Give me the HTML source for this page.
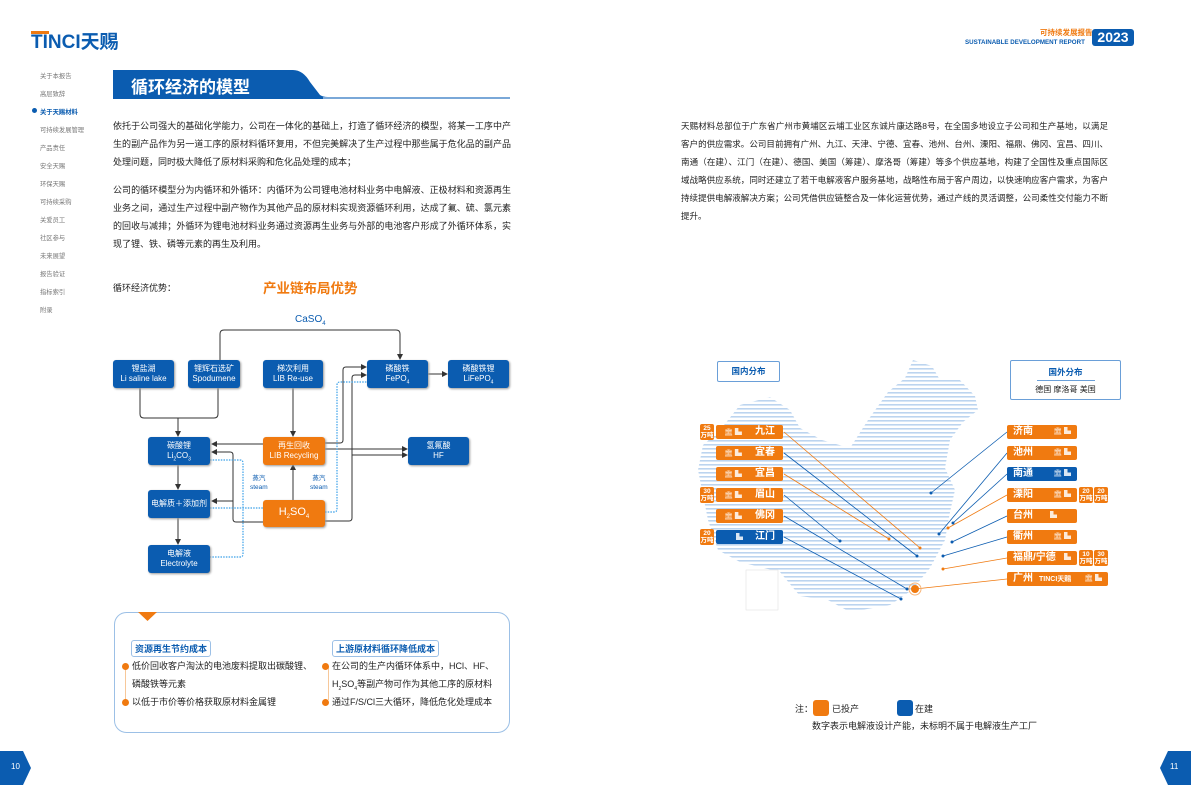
<!DOCTYPE html>
<html><head><meta charset="utf-8">
<style>
*{margin:0;padding:0;box-sizing:border-box}
body{width:1191px;height:809px;position:relative;background:#fff;font-family:"Liberation Sans","Noto Sans CJK SC",sans-serif;overflow:hidden;color:#222}
.a{position:absolute;white-space:nowrap}
.side{position:absolute;left:40px;font-size:6.3px;color:#777}
.p{position:absolute;font-size:9px;line-height:18px;color:#222;text-align:justify}
.nd{position:absolute;background:#0b5cb0;color:#fff;border-radius:3px;font-size:8px;line-height:10px;text-align:center;padding-top:4px;box-shadow:1px 1px 2px #999}
.or{background:#f07a10}
.bar{position:absolute;height:14px;border-radius:2px;background:#f07a10;color:#fff;font-size:10px;font-weight:bold;line-height:14px}
.bl{background:#0b5cb0}
.bd{position:absolute;width:14px;height:16px;border-radius:2px;background:#f07a10;color:#fff;font-size:6.5px;line-height:7px;text-align:center;font-weight:bold;padding-top:1px}
.ic{font-size:7px;font-weight:normal;opacity:.85}
.li{position:absolute;font-size:9px;color:#222}
.dot{display:inline-block;width:7px;height:7px;border-radius:50%;background:#f07a10;margin-right:3px;vertical-align:-1px}
</style></head><body>
<!-- header -->
<div class="a" style="left:31px;top:27px;font-size:19px;font-weight:bold;color:#0b5cb0;letter-spacing:0px">TINCI天赐</div>
<div class="a" style="left:31px;top:31px;width:18px;height:3px;background:#f07a10"></div>
<div class="a" style="left:1040px;top:27px;font-size:7.5px;color:#f07a10;font-weight:bold">可持续发展报告</div>
<div class="a" style="left:965px;top:39px;font-size:6.2px;color:#0b5cb0;font-weight:bold">SUSTAINABLE DEVELOPMENT REPORT</div>
<div class="a" style="left:1092px;top:29px;width:42px;height:17px;background:#0b5cb0;border-radius:3px;color:#fff;font-size:14px;font-weight:bold;text-align:center;line-height:17px">2023</div>
<!-- sidebar -->
<div class="side" style="top:71px">关于本报告</div>
<div class="side" style="top:89px">高层致辞</div>
<div class="a" style="left:32px;top:108px;width:5px;height:5px;border-radius:50%;background:#0b5cb0"></div>
<div class="side" style="top:107px;color:#0b5cb0;font-weight:bold">关于天赐材料</div>
<div class="side" style="top:125px">可持续发展管理</div>
<div class="side" style="top:143px">产品责任</div>
<div class="side" style="top:161px">安全天赐</div>
<div class="side" style="top:179px">环保天赐</div>
<div class="side" style="top:197px">可持续采购</div>
<div class="side" style="top:215px">关爱员工</div>
<div class="side" style="top:233px">社区参与</div>
<div class="side" style="top:251px">未来展望</div>
<div class="side" style="top:269px">报告验证</div>
<div class="side" style="top:287px">指标索引</div>
<div class="side" style="top:305px">附录</div>
<!-- title -->
<svg class="a" style="left:113px;top:70px" width="400" height="30"><path d="M0 0H180Q190 0 197 12L207 25Q210 27 215 27H397V29H0Z" fill="#0b5cb0"/><rect x="210" y="27" width="187" height="2" fill="#7aa8d8"/></svg>
<div class="a" style="left:131px;top:73px;font-size:17px;color:#fff;font-weight:bold">循环经济的模型</div>
<div class="p" style="left:113px;top:117px;width:398px">依托于公司强大的基础化学能力，公司在一体化的基础上，打造了循环经济的模型，将某一工序中产生的副产品作为另一道工序的原材料循环复用，不但完美解决了生产过程中那些属于危化品的副产品处理问题，同时极大降低了原材料采购和危化品处理的成本；</div>
<div class="p" style="left:113px;top:181px;width:398px">公司的循环模型分为内循环和外循环：内循环为公司锂电池材料业务中电解液、正极材料和资源再生业务之间，通过生产过程中副产物作为其他产品的原材料实现资源循环利用，达成了氟、硫、氯元素的回收与减排；外循环为锂电池材料业务通过资源再生业务与外部的电池客户形成了外循环体系，实现了锂、铁、磷等元素的再生及利用。</div>
<div class="a" style="left:113px;top:281px;font-size:9px">循环经济优势：</div>
<div class="a" style="left:263px;top:277px;font-size:13.5px;color:#f07a10;font-weight:bold">产业链布局优势</div>
<!-- diagram lines -->
<svg class="a" style="left:0;top:0" width="1191" height="809">
<defs><marker id="ar" markerWidth="6" markerHeight="6" refX="5" refY="3" orient="auto"><path d="M0 0L6 3L0 6Z" fill="#333"/></marker>
<pattern id="hp" width="4" height="4" patternUnits="userSpaceOnUse"><rect width="4" height="1.6" fill="#bcd4ef"/></pattern></defs>
<g fill="none" stroke="#333" stroke-width="1">
<path d="M220 360V334Q220 330 224 330H396Q400 330 400 334V359" marker-end="url(#ar)"/>
<path d="M140 388V414Q140 418 144 418H214Q218 418 218 414V388"/>
<path d="M178 418V436" marker-end="url(#ar)"/>
<path d="M293 388V436" marker-end="url(#ar)"/>
<path d="M263 444H212" marker-end="url(#ar)"/>
<path d="M325 443H340Q343 443 343 440V370Q343 367 346 367H366" marker-end="url(#ar)"/>
<path d="M325 449H407" marker-end="url(#ar)"/>
<path d="M325 521H349Q352 521 352 518V378Q352 375 355 375H366" marker-end="url(#ar)"/>
<path d="M352 455H407" marker-end="url(#ar)"/>
<path d="M293 500V465" marker-end="url(#ar)"/>
<path d="M263 522H236Q233 522 233 519V455Q233 452 230 452H212" marker-end="url(#ar)"/>
<path d="M233 501H212" marker-end="url(#ar)"/>
<path d="M178 465V489" marker-end="url(#ar)"/>
<path d="M178 518V544" marker-end="url(#ar)"/>
<path d="M428 374H447" marker-end="url(#ar)"/>
</g>
<g fill="none" stroke="#3aa0e8" stroke-width="1.2" stroke-dasharray="1.5 1.2">
<path d="M210 460H240Q243 460 243 463V554Q243 557 240 557H210"/>
<path d="M210 508H263"/>
<path d="M325 512H334Q337 512 337 509V385Q337 382 340 382H367"/>
</g>
<!-- map -->
<path d="M740 405L770 397L790 410L800 428L822 440L850 448L868 420L888 392L905 378L913 360L932 366L940 380L958 378L975 396L978 410L963 422L950 440L945 468L955 490L950 512L945 540L930 568L912 590L890 605L850 612L828 600L800 596L780 572L740 562L718 550L708 520L698 470L703 445L720 430Z" fill="url(#hp)"/>
<rect x="746" y="570" width="32" height="40" fill="#fff" stroke="#ddd" stroke-width="0.5"/>
<g stroke-width="0.8" fill="none">
<path d="M784 432L920 548" stroke="#f07a10"/>
<path d="M784 453L917 556" stroke="#0b5cb0"/>
<path d="M784 474L889 539" stroke="#f07a10"/>
<path d="M784 495L840 541" stroke="#0b5cb0"/>
<path d="M784 516L907 589" stroke="#0b5cb0"/>
<path d="M784 537L901 599" stroke="#0b5cb0"/>
<path d="M1007 432L931 493" stroke="#0b5cb0"/>
<path d="M1007 453L939 534" stroke="#0b5cb0"/>
<path d="M1007 474L953 523" stroke="#0b5cb0"/>
<path d="M1007 495L948 528" stroke="#f07a10"/>
<path d="M1007 516L952 542" stroke="#0b5cb0"/>
<path d="M1007 537L943 556" stroke="#0b5cb0"/>
<path d="M1007 558L943 569" stroke="#f07a10"/>
<path d="M1007 579L915 589" stroke="#f07a10"/>
</g>
<g fill="#0b5cb0"><circle cx="931" cy="493" r="1.5"/><circle cx="939" cy="534" r="1.5"/><circle cx="953" cy="523" r="1.5"/><circle cx="952" cy="542" r="1.5"/><circle cx="943" cy="556" r="1.5"/><circle cx="917" cy="556" r="1.5"/><circle cx="840" cy="541" r="1.5"/><circle cx="907" cy="589" r="1.5"/><circle cx="901" cy="599" r="1.5"/></g>
<g fill="#f07a10"><circle cx="920" cy="548" r="1.5"/><circle cx="889" cy="539" r="1.5"/><circle cx="948" cy="528" r="1.5"/><circle cx="943" cy="569" r="1.5"/><circle cx="915" cy="589" r="4"/></g>
<circle cx="915" cy="589" r="6" fill="none" stroke="#f7b57a" stroke-width="1"/>
<!-- bottom box -->
<rect x="114.5" y="612.5" width="395" height="120" rx="12" fill="none" stroke="#9cc0e6"/>
<path d="M138 612H157L147.5 621Z" fill="#f07a10"/>
<path d="M125.5 666V700M328.5 666V700" stroke="#f7c89a" stroke-width="1"/>
<!-- page tabs -->
<path d="M0 751H23L31 768L23 785H0Z" fill="#0b5cb0"/>
<path d="M1191 751H1168L1160 768L1168 785H1191Z" fill="#0b5cb0"/>
</svg>
<div class="a" style="left:295px;top:314px;font-size:10px;color:#0b5cb0">CaSO<sub style="font-size:6px">4</sub></div>
<div class="nd" style="left:113px;top:360px;width:61px;height:28px">锂盐湖<br>Li saline lake</div>
<div class="nd" style="left:188px;top:360px;width:52px;height:28px">锂辉石选矿<br>Spodumene</div>
<div class="nd" style="left:263px;top:360px;width:60px;height:28px">梯次利用<br>LIB Re-use</div>
<div class="nd" style="left:367px;top:360px;width:61px;height:28px">磷酸铁<br>FePO<sub style="font-size:5px">4</sub></div>
<div class="nd" style="left:448px;top:360px;width:61px;height:28px">磷酸铁锂<br>LiFePO<sub style="font-size:5px">4</sub></div>
<div class="nd" style="left:148px;top:437px;width:62px;height:28px">碳酸锂<br>Li<sub style="font-size:5px">2</sub>CO<sub style="font-size:5px">3</sub></div>
<div class="nd or" style="left:263px;top:437px;width:62px;height:28px">再生回收<br>LIB Recycling</div>
<div class="nd" style="left:408px;top:437px;width:61px;height:28px">氢氟酸<br>HF</div>
<div class="nd" style="left:148px;top:490px;width:62px;height:28px;padding-top:9px">电解质＋添加剂</div>
<div class="nd or" style="left:263px;top:500px;width:62px;height:27px;font-size:11px;padding-top:7px">H<sub style="font-size:6px">2</sub>SO<sub style="font-size:6px">4</sub></div>
<div class="nd" style="left:148px;top:545px;width:62px;height:28px">电解液<br>Electrolyte</div>
<div class="a" style="left:250px;top:474px;font-size:6.5px;color:#0b5cb0;text-align:center;line-height:9px">蒸汽<br>steam</div>
<div class="a" style="left:310px;top:474px;font-size:6.5px;color:#0b5cb0;text-align:center;line-height:9px">蒸汽<br>steam</div>
<!-- bottom box text -->
<div class="a" style="left:131px;top:640px;border:1px solid #9cc0e6;border-radius:3px;font-size:9px;color:#0b5cb0;font-weight:bold;padding:1px 3px">资源再生节约成本</div>
<div class="a" style="left:332px;top:640px;border:1px solid #9cc0e6;border-radius:3px;font-size:9px;color:#0b5cb0;font-weight:bold;padding:1px 3px">上游原材料循环降低成本</div>
<div class="li" style="left:122px;top:659px"><span class="dot"></span>低价回收客户淘汰的电池废料提取出碳酸锂、</div>
<div class="li" style="left:132px;top:677px">磷酸铁等元素</div>
<div class="li" style="left:122px;top:695px"><span class="dot"></span>以低于市价等价格获取原材料金属锂</div>
<div class="li" style="left:322px;top:659px"><span class="dot"></span>在公司的生产内循环体系中，HCl、HF、</div>
<div class="li" style="left:332px;top:677px">H<sub style="font-size:5px">2</sub>SO<sub style="font-size:5px">4</sub>等副产物可作为其他工序的原材料</div>
<div class="li" style="left:322px;top:695px"><span class="dot"></span>通过F/S/Cl三大循环，降低危化处理成本</div>
<!-- right page -->
<div class="p" style="left:681px;top:117px;width:427px;font-size:8.5px">天赐材料总部位于广东省广州市黄埔区云埔工业区东诚片康达路8号，在全国多地设立子公司和生产基地，以满足客户的供应需求。公司目前拥有广州、九江、天津、宁德、宜春、池州、台州、溧阳、福鼎、佛冈、宜昌、四川、南通（在建）、江门（在建）、德国、美国（筹建）、摩洛哥（筹建）等多个供应基地，构建了全国性及重点国际区域战略供应系统，同时还建立了若干电解液客户服务基地，战略性布局于客户周边，以快速响应客户需求，为客户持续提供电解液解决方案；公司凭借供应链整合及一体化运营优势，通过产线的灵活调整，公司柔性交付能力不断提升。</div>
<div class="a" style="left:717px;top:361px;width:63px;height:21px;border:1px solid #6a9fd8;border-radius:2px;font-size:8.5px;color:#0b5cb0;font-weight:bold;text-align:center;line-height:19px">国内分布</div>
<div class="a" style="left:1010px;top:360px;width:111px;height:40px;border:1px solid #6a9fd8;border-radius:2px;text-align:center">
<div style="font-size:8.5px;color:#0b5cb0;font-weight:bold;margin-top:5px">国外分布</div>
<div style="width:58px;height:1px;background:#6a9fd8;margin:2px auto 3px"></div>
<div style="font-size:8px;color:#222">德国 摩洛哥 美国</div></div>
<!-- left bars -->
<div class="bar" style="left:716px;top:425px;width:67px"><span class="ic" style="margin-left:8px">🏛 ▙</span><span style="position:absolute;right:8px">九江</span></div>
<div class="bar" style="left:716px;top:446px;width:67px"><span class="ic" style="margin-left:8px">🏛 ▙</span><span style="position:absolute;right:8px">宜春</span></div>
<div class="bar" style="left:716px;top:467px;width:67px"><span class="ic" style="margin-left:8px">🏛 ▙</span><span style="position:absolute;right:8px">宜昌</span></div>
<div class="bar" style="left:716px;top:488px;width:67px"><span class="ic" style="margin-left:8px">🏛 ▙</span><span style="position:absolute;right:8px">眉山</span></div>
<div class="bar" style="left:716px;top:509px;width:67px"><span class="ic" style="margin-left:8px">🏛 ▙</span><span style="position:absolute;right:8px">佛冈</span></div>
<div class="bar bl" style="left:716px;top:530px;width:67px"><span class="ic" style="margin-left:20px">▙</span><span style="position:absolute;right:8px">江门</span></div>
<div class="bd" style="left:700px;top:424px">25<br>万吨</div>
<div class="bd" style="left:700px;top:487px">30<br>万吨</div>
<div class="bd bl" style="left:700px;top:529px">20<br>万吨</div>
<!-- right bars -->
<div class="bar" style="left:1007px;top:425px;width:70px"><span style="margin-left:6px">济南</span><span class="ic" style="position:absolute;right:6px">🏛 ▙</span></div>
<div class="bar" style="left:1007px;top:446px;width:70px"><span style="margin-left:6px">池州</span><span class="ic" style="position:absolute;right:6px">🏛 ▙</span></div>
<div class="bar bl" style="left:1007px;top:467px;width:70px"><span style="margin-left:6px">南通</span><span class="ic" style="position:absolute;right:6px">🏛 ▙</span></div>
<div class="bar" style="left:1007px;top:488px;width:70px"><span style="margin-left:6px">溧阳</span><span class="ic" style="position:absolute;right:6px">🏛 ▙</span></div>
<div class="bar" style="left:1007px;top:509px;width:70px"><span style="margin-left:6px">台州</span><span class="ic" style="position:absolute;right:20px">▙</span></div>
<div class="bar" style="left:1007px;top:530px;width:70px"><span style="margin-left:6px">衢州</span><span class="ic" style="position:absolute;right:6px">🏛 ▙</span></div>
<div class="bar" style="left:1007px;top:551px;width:70px"><span style="margin-left:6px">福鼎/宁德</span><span class="ic" style="position:absolute;right:6px">▙</span></div>
<div class="bar" style="left:1007px;top:572px;width:101px"><span style="margin-left:6px">广州</span><span style="font-size:7px;margin-left:6px">TINCI天赐</span><span class="ic" style="position:absolute;right:6px">🏛 ▙</span></div>
<div class="bd" style="left:1079px;top:487px">20<br>万吨</div>
<div class="bd bl" style="left:1094px;top:487px">20<br>万吨</div>
<div class="bd" style="left:1079px;top:550px">10<br>万吨</div>
<div class="bd bl" style="left:1094px;top:550px">30<br>万吨</div>
<!-- legend -->
<div class="a" style="left:795px;top:702px;font-size:9px">注：</div>
<div class="a" style="left:813px;top:700px;width:16px;height:16px;border-radius:3px;background:#f07a10"></div>
<div class="a" style="left:832px;top:702px;font-size:9px">已投产</div>
<div class="a" style="left:897px;top:700px;width:16px;height:16px;border-radius:3px;background:#0b5cb0"></div>
<div class="a" style="left:915px;top:702px;font-size:9px">在建</div>
<div class="a" style="left:812px;top:719px;font-size:9px">数字表示电解液设计产能，未标明不属于电解液生产工厂</div>
<div class="a" style="left:11px;top:762px;font-size:8px;color:#fff">10</div>
<div class="a" style="left:1170px;top:762px;font-size:8px;color:#fff">11</div>
</body></html>
